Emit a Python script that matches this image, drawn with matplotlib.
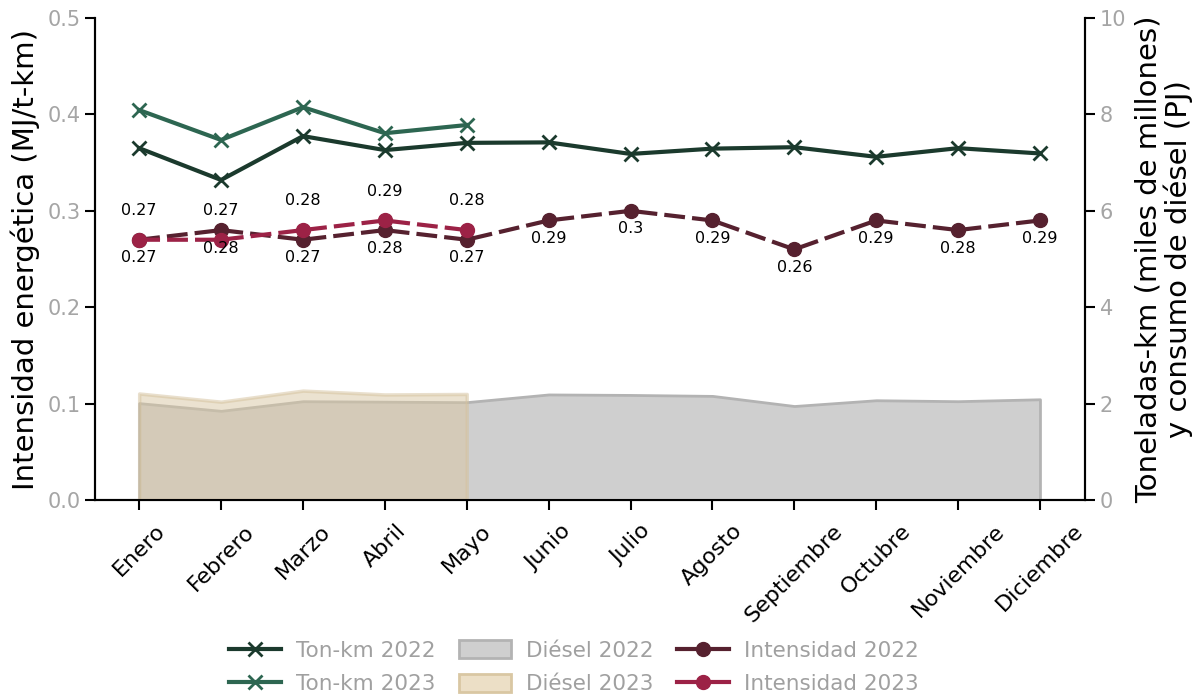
import numpy as np
import matplotlib.pyplot as plt
from matplotlib.lines import Line2D
from matplotlib.patches import Patch

plt.rcParams['font.family'] = ['DejaVu Sans']

# Datos
meses = ['Enero', 'Febrero', 'Marzo', 'Abril', 'Mayo', 'Junio', 'Julio',
         'Agosto', 'Septiembre', 'Octubre', 'Noviembre', 'Diciembre']
tonkm_2022 = [7.30, 6.64, 7.55, 7.26, 7.41, 7.42, 7.18, 7.29, 7.32, 7.12, 7.30, 7.19]
tonkm_2023 = [8.09, 7.47, 8.15, 7.61, 7.78]
diesel_2022 = [2.01, 1.85, 2.05, 2.04, 2.03, 2.19, 2.18, 2.16, 1.95, 2.07, 2.05, 2.09]
diesel_2023 = [2.21, 2.04, 2.27, 2.19, 2.20]
intens_2022 = [0.27, 0.28, 0.27, 0.28, 0.27, 0.29, 0.30, 0.29, 0.26, 0.29, 0.28, 0.29]
intens_2023 = [0.27, 0.27, 0.28, 0.29, 0.28]

c_tk22, c_tk23 = '#1b3a2d', '#2d6651'
c_in22, c_in23 = '#56212f', '#9c2246'

x = np.arange(len(meses))
x23 = np.arange(len(intens_2023))

fig = plt.figure(figsize=(11.96, 6.96), dpi=100)
ax = fig.add_axes([0.0794, 0.2816, 0.8278, 0.6925])
ax2 = ax.twinx()

# Diésel (eje derecho, áreas)
ax2.fill_between(x, diesel_2022, color='#cfcfcf', edgecolor='#b3b3b3', linewidth=2, zorder=1)
ax2.fill_between(x23, diesel_2023, color='#d9c7a3', alpha=0.5, edgecolor='#d4c19c',
                 linewidth=2.5, zorder=2)

# Ton-km (eje derecho)
ax2.plot(x, tonkm_2022, color=c_tk22, lw=3, marker='x', ms=10, mew=2, zorder=4)
ax2.plot(x23, tonkm_2023, color=c_tk23, lw=3, marker='x', ms=10, mew=2, zorder=4)

# Intensidad: eje izquierdo (0-0.5) equivale a eje derecho (0-10)
escala = 20
ax2.plot(x, np.array(intens_2022) * escala, color=c_in22, lw=3, ls=(0, (5, 1.7)),
         marker='o', ms=10, zorder=5)
ax2.plot(x23, np.array(intens_2023) * escala, color=c_in23, lw=3, ls=(0, (5, 1.7)),
         marker='o', ms=10, zorder=6)

for xi, v in zip(x, intens_2022):
    ax2.annotate(f'{v:g}', (xi, v * escala), xytext=(0, -13), textcoords='offset points',
                 ha='center', va='center', fontsize=11.5, color='black', zorder=7)
for xi, v in zip(x23, intens_2023):
    ax2.annotate(f'{v:g}', (xi, v * escala), xytext=(0, 21), textcoords='offset points',
                 ha='center', va='center', fontsize=11.5, color='black', zorder=7)

ax.set_ylim(0, 0.5)
ax2.set_ylim(0, 10)
ax.set_xlim(-0.54, 11.55)
ax.set_yticks(np.arange(0, 0.51, 0.1))
ax.set_yticklabels([f'{t:.1f}' for t in np.arange(0, 0.51, 0.1)])
ax2.set_yticks(np.arange(0, 11, 2))
ax.set_xticks(x)
ax.set_xticklabels(meses, rotation=45, ha='center', fontsize=16)

for a in (ax, ax2):
    a.spines['top'].set_visible(False)
    for s in ('left', 'right', 'bottom'):
        a.spines[s].set_linewidth(1.5)
    a.tick_params(axis='y', labelsize=15, labelcolor='#a5a5a5', width=1.5, length=7)
    a.tick_params(axis='x', width=1.5, length=7, pad=8)

ax.set_ylabel('Intensidad energética (MJ/t-km)', fontsize=21, labelpad=5)
ax2.set_ylabel('Toneladas-km (miles de millones)\ny consumo de diésel (PJ)', fontsize=21,
               labelpad=6, linespacing=1.05)

hh = [
    Line2D([], [], color=c_tk22, lw=3, marker='x', ms=10, mew=2),
    Line2D([], [], color=c_tk23, lw=3, marker='x', ms=10, mew=2),
    Patch(facecolor='#cfcfcf', edgecolor='#b3b3b3', linewidth=2),
    Patch(facecolor='#ecdfc6', edgecolor='#d9c7a3', linewidth=2),
    Line2D([], [], color=c_in22, lw=3, marker='o', ms=10),
    Line2D([], [], color=c_in23, lw=3, marker='o', ms=10),
]
etiquetas = ['Ton-km 2022', 'Ton-km 2023', 'Diésel 2022', 'Diésel 2023',
             'Intensidad 2022', 'Intensidad 2023']
leg = fig.legend(hh, etiquetas, loc='upper center', bbox_to_anchor=(0.48, 0.1078), ncol=3,
                 frameon=False, fontsize=15.5, handlelength=2.4, handleheight=0.9,
                 columnspacing=1.1, labelspacing=0.62, handletextpad=0.7)
for t in leg.get_texts():
    t.set_color('#a0a0a0')

fig.savefig('out.png', dpi=100)
